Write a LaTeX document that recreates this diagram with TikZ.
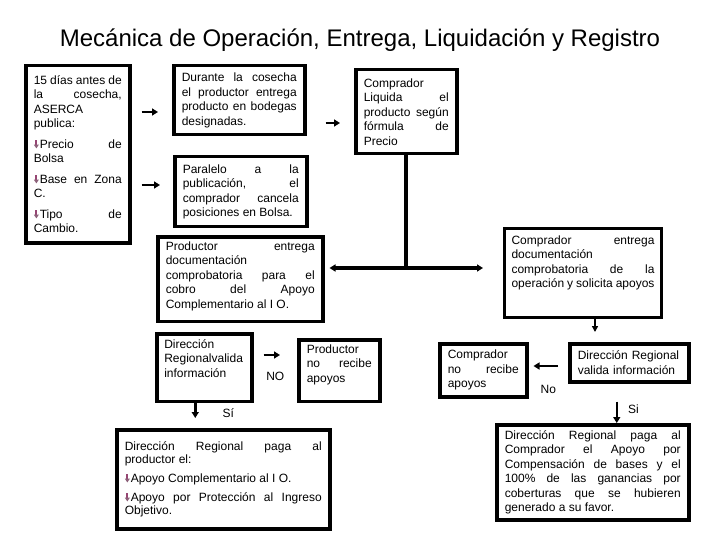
\documentclass[tikz,border=0pt]{standalone}
\usepackage{fontspec}
\setmainfont{Liberation Sans}
\usetikzlibrary{arrows.meta}

\definecolor{bulcol}{RGB}{150,70,115}
\newcommand{\boxfont}{\fontsize{12}{14.5}\selectfont\hyphenpenalty=10000\parindent=0pt\parskip=6pt}
\newcommand{\payfont}{\fontsize{12}{13}\selectfont\hyphenpenalty=10000\parindent=0pt\parskip=6pt}
\newcommand{\bul}{\tikz[baseline=0pt]{\fill[bulcol] (1.6pt,8pt) rectangle (3.6pt,3.5pt);
    \fill[bulcol!55!gray] (0,3.8pt) -- (5.2pt,3.8pt) -- (2.6pt,0) -- cycle;}\hspace{0.8pt}}

\tikzset{
  box/.style={draw, line width=3.5pt, anchor=north west, inner xsep=8pt, inner ysep=4pt,
    align=justify, font=\boxfont},
  arr/.style={line width=2.5pt, -{Triangle[length=6pt,width=7pt]}},
  lbl/.style={font=\fontsize{12}{14}\selectfont, inner sep=0pt},
}

\begin{document}
\begin{tikzpicture}[x=1pt, y=-1pt]
    \useasboundingbox (0,0) rectangle (720,540);

    \node[font=\fontsize{24}{28}\selectfont] (title) at (360,40)
        {Mecánica de Operación, Entrega, Liquidación y Registro};

    % first row
    \node[box, text width=88pt, minimum height=177pt] (pub) at (24,64)
        {15 días antes de \linebreak la cosecha, \linebreak ASERCA \linebreak publica:\par
         \bul Precio de \linebreak Bolsa\par
         \bul Base en Zona \linebreak C.\par
         \bul Tipo de \linebreak Cambio.};
    \node[box, text width=115pt, minimum height=69pt] (cosecha) at (172,64)
        {Durante la cosecha \linebreak el productor entrega \linebreak producto en bodegas \linebreak designadas.};
    \node[box, text width=116pt, minimum height=70pt] (paralelo) at (173,155)
        {Paralelo a la \linebreak publicación, el \linebreak comprador cancela \linebreak posiciones en Bolsa.};
    \node[box, text width=85pt, minimum height=84pt] (liquida) at (354,68)
        {Comprador \linebreak Liquida el \linebreak producto según \linebreak fórmula de \linebreak Precio};

    % documentation
    \node[box, inner ysep=5pt, text width=149pt, text depth=66pt] (docprod) at (156,235)
        {Productor entrega \linebreak documentación \linebreak comprobatoria para el \linebreak cobro del Apoyo \linebreak Complementario al I O.};
    \node[box, line width=3pt, inner xsep=7pt, inner ysep=7pt, text width=143pt, text depth=66pt] (doccomp) at (503,227)
        {Comprador entrega \linebreak documentación \linebreak comprobatoria de la \linebreak operación y solicita apoyos};

    % validation
    \node[box, inner xsep=7.5pt, inner ysep=5.5pt, text width=80pt, text depth=48pt] (valprod) at (155,332)
        {Dirección \linebreak Regionalvalida \linebreak información};
    \node[box, inner ysep=5pt, text width=65pt, text depth=43pt] (noprod) at (297,338)
        {Productor \linebreak no recibe \linebreak apoyos};
    \node[box, text width=71pt, minimum height=53pt] (nocomp) at (438,342)
        {Comprador \linebreak no recibe \linebreak apoyos};
    \node[box, align=left, text width=103pt, minimum height=38pt] (valcomp) at (568,342)
        {Dirección Regional\\ valida información};

    % payment
    \node[box, font=\payfont, text width=197pt, minimum height=99pt] (pagoprod) at (115,428)
        {Dirección Regional paga al \linebreak productor el:\par
         \bul Apoyo Complementario al I O.\par
         \bul Apoyo por Protección al Ingreso \linebreak Objetivo.};
    \node[box, text width=176pt, minimum height=95pt] (pagocomp) at (495,423)
        {Dirección Regional paga al \linebreak Comprador el Apoyo por \linebreak Compensación de bases y el \linebreak 100\% de las ganancias por \linebreak coberturas que se hubieren \linebreak generado a su favor.};

    % arrows
    \draw[arr, shorten <=10pt, shorten >=14pt] (pub.east |- 0,112) -- (cosecha.west |- 0,112);
    \draw[arr, shorten <=10pt, shorten >=13pt] (pub.east |- 0,185) -- (paralelo.west |- 0,185);
    \draw[arr, shorten <=19pt, shorten >=14pt] (cosecha.east |- 0,123) -- (liquida.west |- 0,123);

    \coordinate (split) at (liquida.south |- 0,268);
    \draw[line width=4pt] (liquida.south) -- (split);
    \draw[line width=4pt, {Triangle[length=6pt,width=7pt]}-{Triangle[length=6pt,width=7pt]},
        shorten <=5pt, shorten >=20pt] (docprod.east |- split) -- (doccomp.west |- split);

    \draw[line width=1.5pt, -{Triangle[length=6pt,width=6pt]}, shorten >=10pt]
        ([xshift=12pt]doccomp.south) -- ([xshift=12pt]doccomp.south |- valcomp.north);
    \draw[arr, shorten <=10pt, shorten >=5pt] (valcomp.west |- 0,366) -- (nocomp.east |- 0,366)
        node[lbl, pos=0.5, below=18pt] (lblno) {No};
    \draw[arr, shorten <=18pt] ([xshift=-12.5pt]valcomp.south) -- ([xshift=-12.5pt]valcomp.south |- pagocomp.north)
        node[lbl, pos=0.65, right=10pt] (lblsi) {Si};

    \draw[arr, shorten <=10pt, shorten >=17pt] (valprod.east |- 0,355) -- (noprod.west |- 0,355)
        node[lbl, pos=0.5, below=16pt] (lblnop) {NO};
    \draw[arr, shorten >=10pt] ([xshift=-9pt]valprod.south) -- ([xshift=-9pt]valprod.south |- pagoprod.north)
        node[lbl, pos=0.4, right=26pt] (lblsip) {Sí};
\end{tikzpicture}
\end{document}
